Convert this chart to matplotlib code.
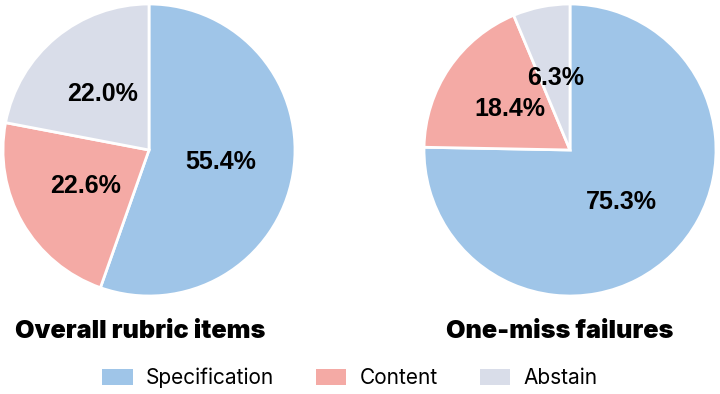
import matplotlib
matplotlib.use("Agg")
import matplotlib.pyplot as plt
from matplotlib.patches import Patch

plt.rcParams["font.family"] = ["Inter", "DejaVu Sans"]

categories = ["Specification", "Content", "Abstain"]
colors = ["#9fc5e8", "#f4aaa5", "#d9dde9"]

overall_pct = [55.4, 22.6, 22.0]
one_miss_pct = [75.3, 18.4, 6.3]

titles = ["Overall rubric items", "One-miss failures"]

W, H = 720, 394
fig = plt.figure(figsize=(W / 100, H / 100), dpi=100)

# pie boxes in pixels: center x, center y (from top), radius
r_px = 146
lim = 1.03
boxes = [(149, 150), (570, 150)]
title_x = [140, 560]

for (cx, cy), vals, title, tx in zip(boxes, [overall_pct, one_miss_pct], titles, title_x):
    half = r_px * lim
    ax = fig.add_axes([(cx - half) / W, (H - cy - half) / H, 2 * half / W, 2 * half / H])
    wedges, texts, autotexts = ax.pie(
        vals,
        colors=colors,
        startangle=90,
        counterclock=False,
        autopct=lambda p: f"{p:.1f}%",
        pctdistance=0.5,
        wedgeprops=dict(edgecolor="white", linewidth=2),
        textprops=dict(fontsize=18, fontweight="bold", color="black",
                       family=["Liberation Sans", "DejaVu Sans"]),
    )
    ax.set_xlim(-lim, lim)
    ax.set_ylim(-lim, lim)
    ax.set_aspect("equal")
    fig.text(tx / W, 1 - 331 / H, title, ha="center", va="center",
             fontsize=18.2, fontweight="black")

handles = [Patch(facecolor=c, edgecolor="none", label=l) for c, l in zip(colors, categories)]
fig.legend(handles=handles, loc="center", bbox_to_anchor=(350 / W, 1 - 378 / H), ncol=3,
           frameon=False, fontsize=15, handlelength=1.45, handleheight=0.85,
           handletextpad=0.65, columnspacing=2.0)

fig.savefig("out.png", dpi=100)
